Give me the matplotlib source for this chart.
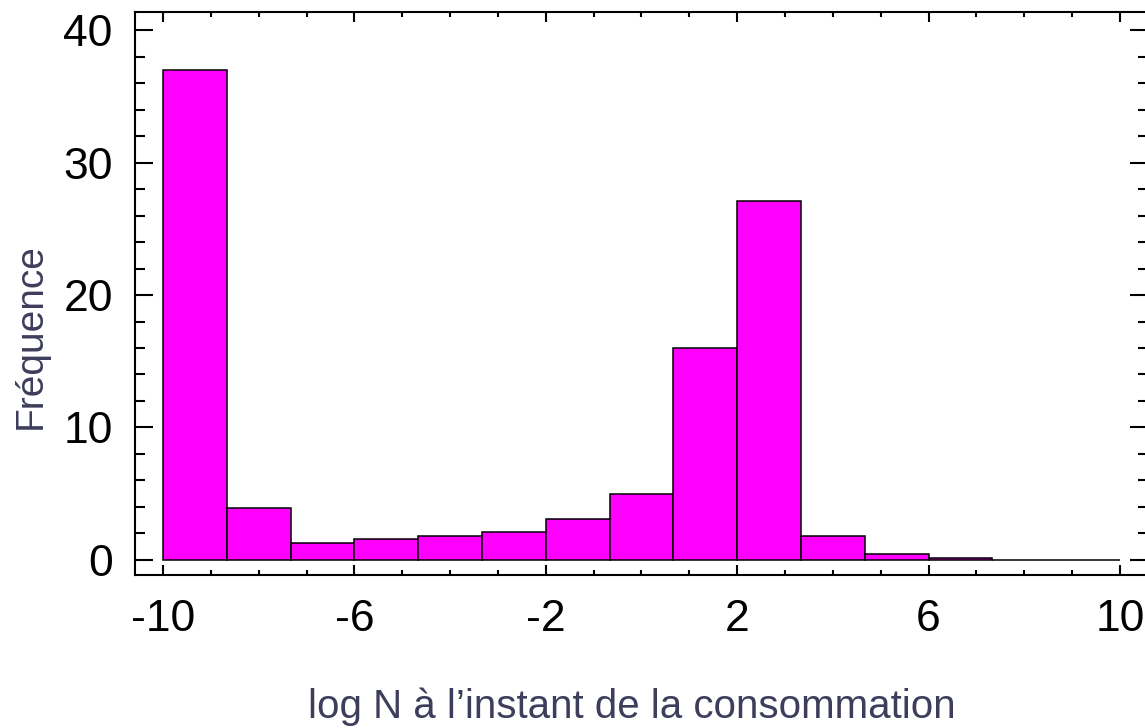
import numpy as np
import matplotlib.pyplot as plt
from matplotlib.ticker import MultipleLocator

# histogram of log N, 15 bins from -10 to 10
bin_edges = np.linspace(-10, 10, 16)
counts = [37.0, 3.9, 1.3, 1.58, 1.83, 2.09, 3.12, 4.95, 16.0, 27.1,
          1.83, 0.43, 0.17, 0.03, 0.02]

xlabel = 'log N à l\u2019instant de la consommation'
ylabel = 'Fréquence'

plt.rcParams['font.family'] = ['Liberation Sans', 'DejaVu Sans']
plt.rcParams['axes.unicode_minus'] = False

fig = plt.figure(figsize=(11.45, 7.28), dpi=100)
# right spine sits just past the figure edge, as in the original
ax = fig.add_axes([0.1179, 0.2102, 0.8847, 0.7733])

ax.bar(bin_edges[:-1], counts, width=np.diff(bin_edges), align='edge',
       color='#ff00ff', edgecolor='black', linewidth=1.1)

ax.set_xlim(-10.585, 10.585)
ax.set_ylim(-1.132, 41.36)

ax.xaxis.set_minor_locator(MultipleLocator(1))
ax.yaxis.set_major_locator(MultipleLocator(10))
ax.yaxis.set_minor_locator(MultipleLocator(2))
ax.set_xticks([-10, -6, -2, 2, 6, 10])

for sp in ax.spines.values():
    sp.set_linewidth(1.5)

ax.tick_params(axis='both', which='both', direction='in', width=1.5,
               top=True, right=True, labelsize=32, colors='black')
ax.tick_params(axis='x', which='major', length=7, pad=17)
ax.tick_params(axis='x', which='minor', length=3.6)
ax.tick_params(axis='y', which='major', length=13, pad=16)
ax.tick_params(axis='y', which='minor', length=7)

ax.set_xlabel(xlabel, fontsize=29, color='#3d3d5c')
ax.set_ylabel(ylabel, fontsize=28, color='#3d3d5c')
ax.xaxis.set_label_coords(0.49, -0.2)
ax.yaxis.set_label_coords(-0.085, 0.4245)

fig.savefig('out.png', dpi=100)
